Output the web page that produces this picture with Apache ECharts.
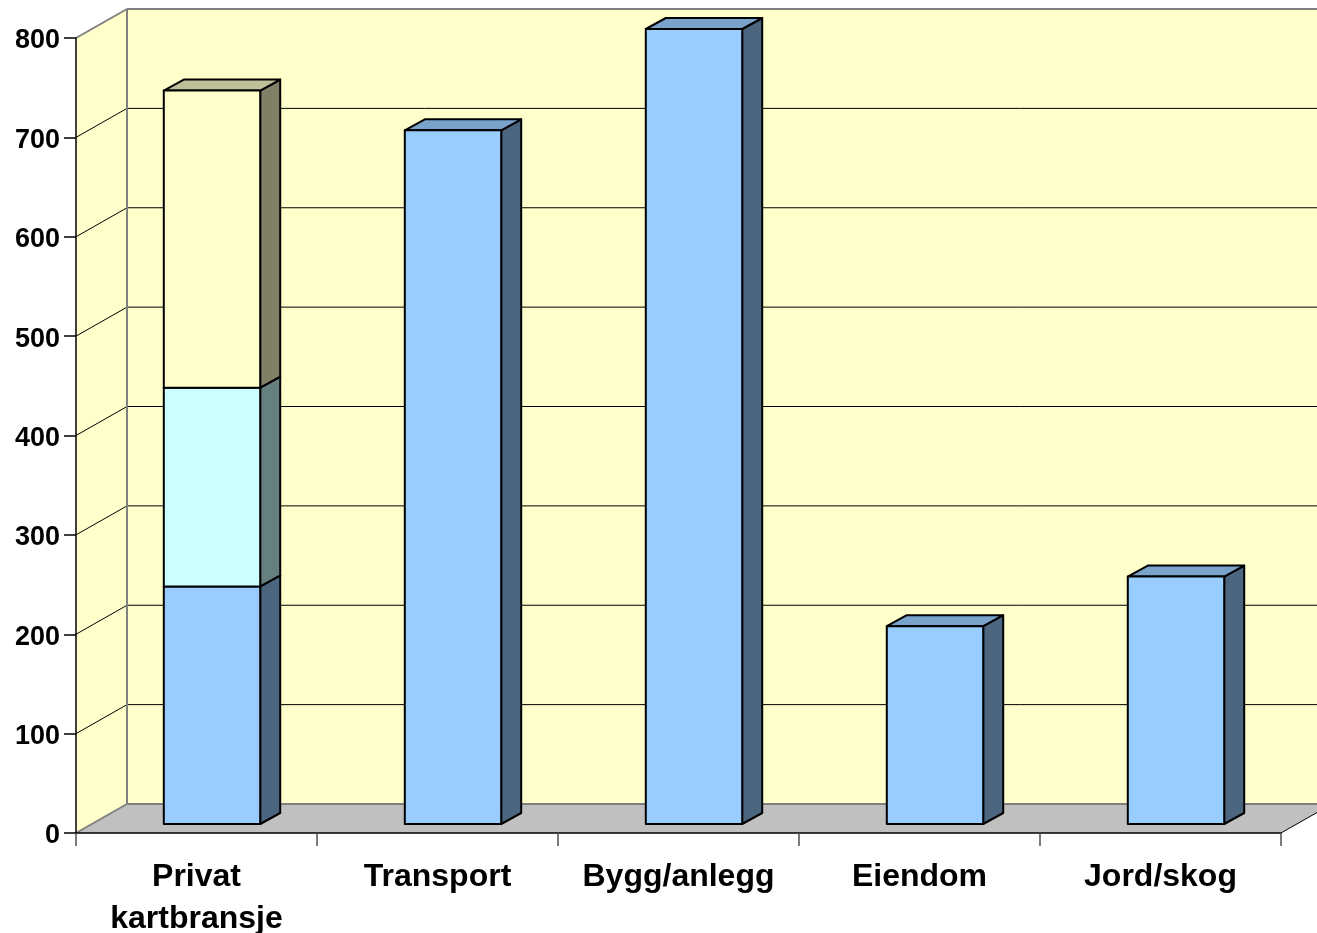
<!DOCTYPE html>
<html>
<head>
<meta charset="utf-8">
<script src="https://cdn.jsdelivr.net/npm/echarts@6/dist/echarts.min.js"></script>
<style>html,body{margin:0;padding:0;background:#fff;overflow:hidden}#c{width:1317px;height:933px}</style>
</head>
<body>
<div id="c"></div>
<script>
const categories = ['Privat\nkartbransje', 'Transport', 'Bygg/anlegg', 'Eiendom', 'Jord/skog'];
const yTicks = [0, 100, 200, 300, 400, 500, 600, 700, 800];
const seriesBlue = [239, 698, 800, 199, 249];
const seriesCyan = [200, 0, 0, 0, 0];
const seriesYellow = [299, 0, 0, 0, 0];

const FONT = '"Liberation Sans", Arial, sans-serif';
const WALL_DX = 51, WALL_DY = -29;
const BAR_DX = 15.5, BAR_DY = -9, BAR_SIDE_DX = 20, BAR_SIDE_DY = -11;
const BAR_RATIO = 0.4;

const chart = echarts.init(document.getElementById('c'), null, { renderer: 'canvas' });

function poly(points, fill, stroke, lineWidth) {
  return { type: 'polygon', shape: { points: points }, style: { fill: fill, stroke: stroke || 'none', lineWidth: lineWidth || 0, lineJoin: 'round' } };
}
function line(a, b, stroke, lineWidth) {
  return { type: 'line', shape: { x1: a[0], y1: a[1], x2: b[0], y2: b[1] }, style: { stroke: stroke, lineWidth: lineWidth } };
}

function renderWalls(params, api) {
  const p0 = api.coord([0, 0]);
  const left = p0[0] - api.size([1, 0])[0] / 2;
  const right = left + api.size([1, 0])[0] * categories.length;
  const y0 = p0[1];
  const yTop = api.coord([0, yTicks[yTicks.length - 1]])[1];
  return {
    type: 'group',
    children: [
      poly([[left + WALL_DX, yTop + WALL_DY], [right + WALL_DX, yTop + WALL_DY], [right + WALL_DX, y0 + WALL_DY], [left + WALL_DX, y0 + WALL_DY]], '#FFFFCC'),
      poly([[left, yTop], [left + WALL_DX, yTop + WALL_DY], [left + WALL_DX, y0 + WALL_DY], [left, y0]], '#FFFFCC'),
      poly([[left, y0], [left + WALL_DX, y0 + WALL_DY], [right + WALL_DX, y0 + WALL_DY], [right, y0]], '#C0C0C0')
    ]
  };
}

function renderGrid(params, api) {
  const value = api.value(1);
  const p0 = api.coord([0, value]);
  const left = p0[0] - api.size([1, 0])[0] / 2;
  const right = left + api.size([1, 0])[0] * categories.length;
  const y = p0[1];
  const edge = value === 0 || value === yTicks[yTicks.length - 1];
  const color = edge ? '#808080' : '#000000';
  const w = edge ? 2 : 1;
  return {
    type: 'group',
    children: [
      line([left, y], [left + WALL_DX, y + WALL_DY], color, w),
      line([left + WALL_DX, y + WALL_DY], [right + WALL_DX, y + WALL_DY], color, w)
    ]
  };
}

function renderWallEdges(params, api) {
  const p0 = api.coord([0, 0]);
  const left = p0[0] - api.size([1, 0])[0] / 2;
  const right = left + api.size([1, 0])[0] * categories.length;
  const yTop = api.coord([0, yTicks[yTicks.length - 1]])[1];
  return {
    type: 'group',
    children: [
      line([left + WALL_DX, yTop + WALL_DY], [left + WALL_DX, p0[1] + WALL_DY], '#808080', 2),
      line([right, p0[1]], [right + WALL_DX, p0[1] + WALL_DY], '#000000', 1)
    ]
  };
}

function makeBarRenderer(front, side, top) {
  return function (params, api) {
    const cat = api.value(0), base = api.value(1), end = api.value(2);
    if (end === base) return { type: 'group', children: [] };
    const pb = api.coord([cat, base]), pt = api.coord([cat, end]);
    const w = api.size([1, 0])[0] * BAR_RATIO;
    const x1 = pb[0] - w / 2 + BAR_DX, x2 = x1 + w;
    const yb = pb[1] + BAR_DY, yt = pt[1] + BAR_DY;
    const sx = BAR_SIDE_DX, sy = BAR_SIDE_DY;
    return {
      type: 'group',
      children: [
        poly([[x2, yt], [x2 + sx, yt + sy], [x2 + sx, yb + sy], [x2, yb]], side, '#000000', 2),
        poly([[x1, yt], [x1 + sx, yt + sy], [x2 + sx, yt + sy], [x2, yt]], top, '#000000', 2),
        poly([[x1, yt], [x2, yt], [x2, yb], [x1, yb]], front, '#000000', 2)
      ]
    };
  };
}

function stackedData(values, bases) {
  return values.map((v, i) => [i, bases[i], bases[i] + v]);
}
const cyanBase = seriesBlue;
const yellowBase = seriesBlue.map((v, i) => v + seriesCyan[i]);

chart.setOption({
  animation: false,
  backgroundColor: '#ffffff',
  grid: { left: 76, top: 38, width: 1205, height: 795, containLabel: false, outerBoundsMode: 'none' },
  xAxis: {
    type: 'category',
    data: categories,
    z: 5,
    boundaryGap: true,
    axisLine: { show: true, lineStyle: { color: '#000000', width: 1.5 } },
    axisTick: { show: true, length: 13, lineStyle: { color: '#505050', width: 1.5 } },
    axisLabel: { interval: 0, color: '#000000', fontFamily: FONT, fontWeight: 'bold', fontSize: 32, lineHeight: 42, margin: 23 },
    splitLine: { show: false }
  },
  yAxis: {
    type: 'value',
    min: 0,
    max: 800,
    interval: 100,
    z: 5,
    axisLine: { show: true, lineStyle: { color: '#000000', width: 1.5 } },
    axisTick: { show: true, length: 12, lineStyle: { color: '#000000', width: 1.5 } },
    axisLabel: {
      margin: 16,
      formatter: '{a|{value}}',
      rich: { a: { color: '#000000', fontFamily: FONT, fontWeight: 'bold', fontSize: 27, lineHeight: 33, verticalAlign: 'bottom' } }
    },
    splitLine: { show: false }
  },
  series: [
    { type: 'custom', name: 'walls', z: 1, silent: true, renderItem: renderWalls, data: [[0, 0]], encode: { x: 0, y: 1 } },
    { type: 'custom', name: 'grid', z: 2, silent: true, renderItem: renderGrid, data: yTicks.map(v => [0, v]), encode: { x: 0, y: 1 } },
    { type: 'custom', name: 'edges', z: 2, silent: true, renderItem: renderWallEdges, data: [[0, 0]], encode: { x: 0, y: 1 } },
    { type: 'custom', name: 'A', z: 3, renderItem: makeBarRenderer('#99CCFF', '#4D6680', '#7AA3CC'), data: stackedData(seriesBlue, seriesBlue.map(() => 0)), encode: { x: 0, y: [1, 2] } },
    { type: 'custom', name: 'B', z: 3, renderItem: makeBarRenderer('#CCFFFF', '#668080', '#A3CCCC'), data: stackedData(seriesCyan, cyanBase), encode: { x: 0, y: [1, 2] } },
    { type: 'custom', name: 'C', z: 3, renderItem: makeBarRenderer('#FFFFCC', '#808066', '#BFBF99'), data: stackedData(seriesYellow, yellowBase), encode: { x: 0, y: [1, 2] } }
  ]
});
</script>
</body>
</html>
